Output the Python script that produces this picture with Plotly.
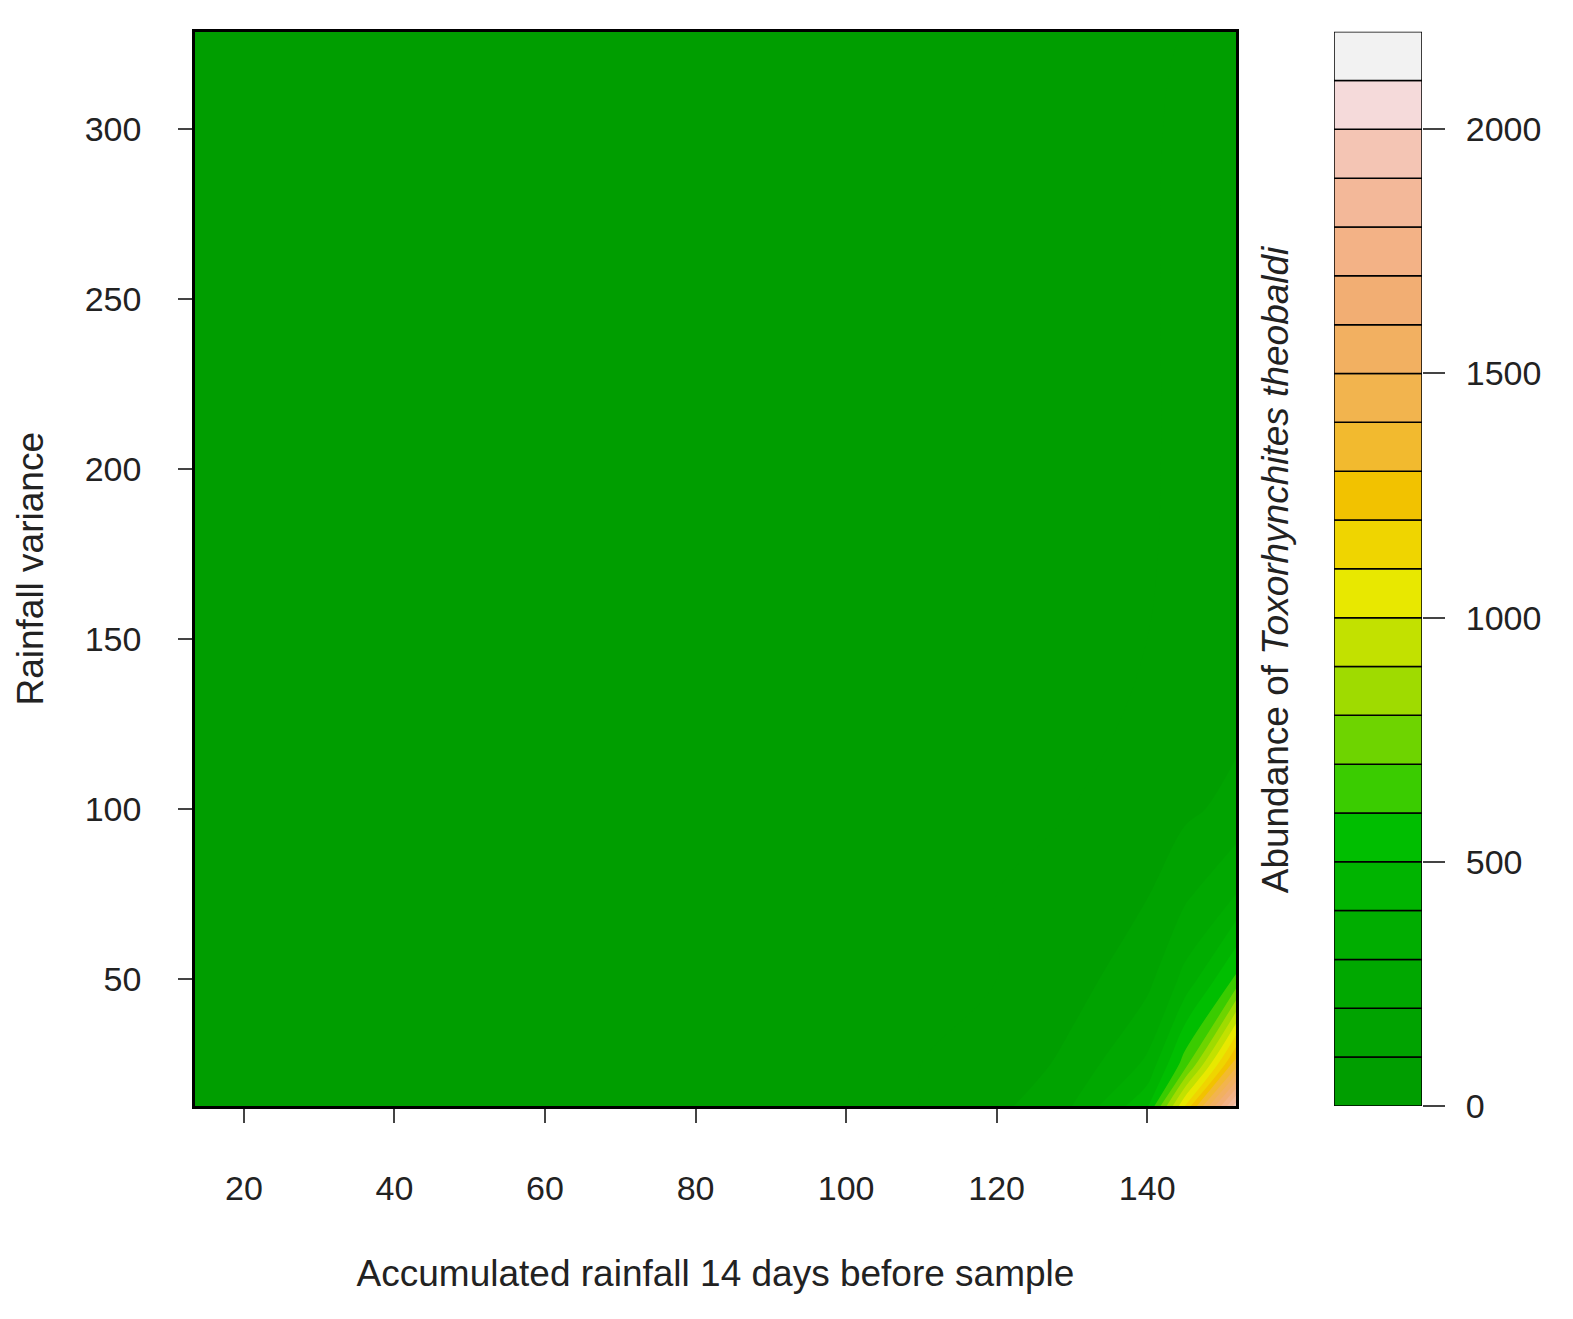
import plotly.graph_objects as go

x_vals = [13.5, 110, 120, 130, 140, 145, 151.8]
y_vals = [12.75, 25, 50, 75, 100, 150, 328.5]
z_vals = [
    [0, 0, 70, 200, 480, 1100, 1950],
    [0, 0, 25, 130, 320, 650, 1350],
    [0, 0, 0, 60, 170, 330, 620],
    [0, 0, 0, 15, 95, 180, 300],
    [0, 0, 0, 0, 30, 80, 130],
    [0, 0, 0, 0, 0, 10, 30],
    [0, 0, 0, 0, 0, 0, 0],
]
bin_colors = ['#009E00', '#00A300', '#00A800', '#00AD00', '#00B400', '#00BE00',
              '#3ACC00', '#6ED400', '#9FDB00', '#C2E100', '#E8E800', '#EFD500',
              '#F2C200', '#F2BA2F', '#F2B44E', '#F2B061', '#F2AE73', '#F3B286',
              '#F3B899', '#F4C5B4', '#F5DADA', '#F2F2F2']
zmax = 2200
n = len(bin_colors)
cs = []
for i, c in enumerate(bin_colors):
    cs.append([i / n, c]); cs.append([(i + 1) / n, c])

fig = go.Figure()
fig.add_trace(go.Contour(x=x_vals, y=y_vals, z=z_vals, zmin=0, zmax=zmax,
    colorscale=cs, contours=dict(start=0, end=zmax, size=100, coloring='fill', showlines=False),
    line=dict(width=0), showscale=False))
lev = [i * 100 for i in range(n)]
fig.add_trace(go.Bar(x=[0.5] * n, y=[100] * n, base=lev, marker=dict(color=bin_colors, line=dict(color='black', width=1.5)),
    width=1, xaxis='x2', yaxis='y2', showlegend=False))

font = dict(family='Liberation Sans, Arial', size=34, color='#222')
fig.update_layout(width=1573, height=1319, plot_bgcolor='white', paper_bgcolor='white',
    margin=dict(l=0, r=0, t=0, b=0), font=font, showlegend=False,
    xaxis=dict(domain=[187/1573, 1228/1573], range=[13.5, 151.8], tickvals=[20,40,60,80,100,120,140],
        ticks='outside', ticklen=14, tickwidth=2, showgrid=False, zeroline=False, mirror=True,
        showline=True, linecolor='black', linewidth=2.5, ticklabelstandoff=36,
        title=dict(text='Accumulated rainfall 14 days before sample', standoff=55, font=dict(size=37))),
    yaxis=dict(domain=[1-1114/1319, 1-24/1319], range=[12.75, 328.5], tickvals=[50,100,150,200,250,300],
        ticks='outside', ticklen=14, tickwidth=2, showgrid=False, zeroline=False, mirror=True,
        showline=True, linecolor='black', linewidth=2.5, ticklabelstandoff=30,
        title=dict(text='Rainfall variance', standoff=30, font=dict(size=37))),
    xaxis2=dict(domain=[1326/1573, 1414/1573], range=[0, 1], visible=False, anchor='y2'),
    yaxis2=dict(domain=[1-1114/1319, 1-24/1319], range=[0, zmax], side='right', anchor='x2',
        tickvals=[0,500,1000,1500,2000], ticks='outside', ticklen=22, tickwidth=2,
        showgrid=False, zeroline=False, showline=False, ticklabelstandoff=14),
)
fig.add_annotation(text='Abundance of <i>Toxorhynchites theobaldi</i>', xref='paper', yref='paper',
    x=1290/1573, y=1-570/1319, textangle=-90, showarrow=False, font=dict(size=37))
fig.write_html('out.html')
